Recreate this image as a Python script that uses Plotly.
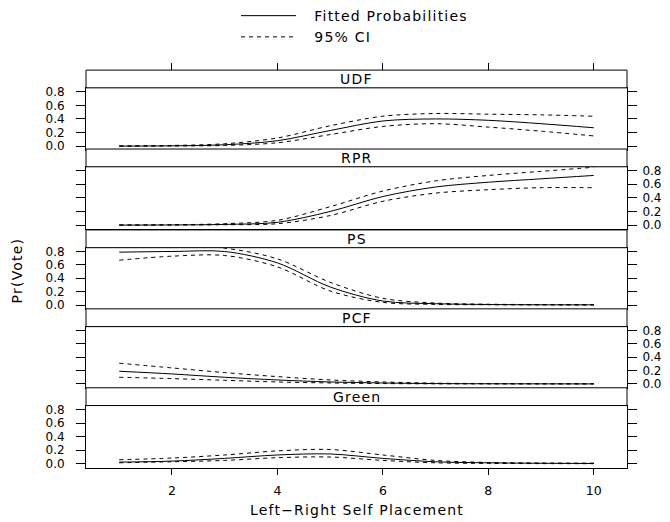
import plotly.graph_objects as go

# ---------------- data ----------------
X = [1, 2, 3, 4, 5, 6, 7, 8, 9, 10]
PARTIES = ["UDF", "RPR", "PS", "PCF", "Green"]

UDF_fit = [0.0, 0.005, 0.02, 0.08, 0.23, 0.37, 0.40, 0.38, 0.33, 0.27]
UDF_hi = [0.004, 0.01, 0.035, 0.12, 0.30, 0.44, 0.48, 0.47, 0.46, 0.44]
UDF_lo = [0.0, 0.002, 0.01, 0.05, 0.17, 0.29, 0.33, 0.28, 0.22, 0.15]

RPR_fit = [0.0, 0.002, 0.01, 0.04, 0.20, 0.42, 0.56, 0.63, 0.68, 0.73]
RPR_hi = [0.0, 0.004, 0.02, 0.07, 0.27, 0.50, 0.65, 0.73, 0.79, 0.85]
RPR_lo = [0.0, 0.001, 0.005, 0.02, 0.14, 0.35, 0.47, 0.52, 0.55, 0.55]

PS_fit = [0.79, 0.80, 0.80, 0.63, 0.27, 0.06, 0.02, 0.008, 0.004, 0.003]
PS_hi = [0.89, 0.88, 0.85, 0.69, 0.34, 0.10, 0.03, 0.012, 0.007, 0.005]
PS_lo = [0.67, 0.73, 0.74, 0.57, 0.21, 0.04, 0.01, 0.004, 0.002, 0.001]

PCF_fit = [0.19, 0.15, 0.10, 0.06, 0.03, 0.015, 0.006, 0.003, 0.002, 0.001]
PCF_hi = [0.31, 0.24, 0.17, 0.11, 0.06, 0.03, 0.012, 0.006, 0.004, 0.003]
PCF_lo = [0.10, 0.08, 0.055, 0.03, 0.015, 0.006, 0.002, 0.001, 0.0005, 0.0002]

Green_fit = [0.025, 0.04, 0.08, 0.13, 0.145, 0.08, 0.03, 0.015, 0.008, 0.005]
Green_hi = [0.06, 0.085, 0.13, 0.19, 0.21, 0.13, 0.05, 0.02, 0.012, 0.01]
Green_lo = [0.015, 0.03, 0.05, 0.09, 0.10, 0.05, 0.015, 0.006, 0.003, 0.002]

FIT = [UDF_fit, RPR_fit, PS_fit, PCF_fit, Green_fit]
HI = [UDF_hi, RPR_hi, PS_hi, PCF_hi, Green_hi]
LO = [UDF_lo, RPR_lo, PS_lo, PCF_lo, Green_lo]

Y_TICKS = [0.0, 0.2, 0.4, 0.6, 0.8]
X_TICKS = [2, 4, 6, 8, 10]

# ---------------- layout geometry ----------------
W, H = 670, 522
FONT = "DejaVu Sans"
FS = 14          # labels, strips, legend
TFS = 12         # tick labels
X_RANGE = [0.37, 10.63]
Y_RANGE = [-0.057, 0.857]
px_left, px_right = 86, 627
xdom = [px_left / W, px_right / W]
PANELS = [(85, 148), (165, 228), (247, 309), (327, 389), (407, 470)]
STRIP_H = 18


def py(p):
    return 1 - p / H


def wide(s, sp=1.2):
    return f'<span style="letter-spacing:{sp}px">{s}</span>'


fig = go.Figure()
layout = dict(
    width=W, height=H, margin=dict(l=0, r=0, t=0, b=0),
    paper_bgcolor="white", plot_bgcolor="white",
    font=dict(family=FONT, size=FS, color="black"),
    showlegend=True,
    legend=dict(x=236 / W, y=1 + 4 / H, xanchor="left", yanchor="top",
                bgcolor="rgba(0,0,0,0)", font=dict(size=FS, family=FONT),
                itemwidth=55, tracegroupgap=0),
)
shapes = []
annotations = []

for i, name in enumerate(PARTIES):
    k = i + 1
    xa = "x" if k == 1 else f"x{k}"
    ya = "y" if k == 1 else f"y{k}"
    top, bot = PANELS[i]
    ydom = [py(bot), py(top)]

    fig.add_trace(go.Scatter(x=X, y=FIT[i], mode="lines", xaxis=xa, yaxis=ya,
                             line=dict(color="black", width=1, shape="spline", smoothing=0.9),
                             name="\u00a0\u00a0\u00a0" + wide("Fitted Probabilities"),
                             showlegend=(i == 0), legendrank=1))
    fig.add_trace(go.Scatter(x=X, y=HI[i], mode="lines", xaxis=xa, yaxis=ya,
                             line=dict(color="black", width=1, dash="4px,4px", shape="spline", smoothing=0.9),
                             name="\u00a0\u00a0\u00a0" + wide("95% CI"),
                             showlegend=(i == 0), legendrank=2))
    fig.add_trace(go.Scatter(x=X, y=LO[i], mode="lines", xaxis=xa, yaxis=ya,
                             line=dict(color="black", width=1, dash="4px,4px", shape="spline", smoothing=0.9),
                             name="95% CI", showlegend=False))

    last = (i == len(PARTIES) - 1)
    xkey = "xaxis" if k == 1 else f"xaxis{k}"
    ykey = "yaxis" if k == 1 else f"yaxis{k}"
    layout[xkey] = dict(
        domain=xdom, anchor=ya, range=X_RANGE, showgrid=False, zeroline=False,
        showline=True, linecolor="black", linewidth=1, mirror=True,
        tickvals=X_TICKS, ticks="outside" if last else "", ticklen=6, tickcolor="black",
        showticklabels=last, tickfont=dict(size=TFS + 0.5, family=FONT),
        ticklabelstandoff=5,
    )
    right = (i % 2 == 1)
    layout[ykey] = dict(
        domain=ydom, anchor=xa, range=Y_RANGE, showgrid=False, zeroline=False,
        showline=True, linecolor="black", linewidth=1, mirror="ticks",
        tickvals=Y_TICKS, tickformat=".1f", ticks="outside", ticklen=9,
        tickcolor="black", side="right" if right else "left",
        tickfont=dict(size=TFS, family=FONT), ticklabelstandoff=3 if right else 9,
    )
    shapes.append(dict(type="rect", xref="paper", yref="paper",
                       x0=xdom[0], x1=xdom[1], y0=py(top), y1=py(top - STRIP_H),
                       line=dict(color="black", width=1), fillcolor="white", layer="above"))
    annotations.append(dict(text=wide(name), xref="paper", yref="paper",
                            x=(xdom[0] + xdom[1]) / 2, y=py(top - STRIP_H / 2),
                            xanchor="center", yanchor="middle", showarrow=False,
                            font=dict(size=FS, family=FONT)))

# top tick marks above the first strip
fig.add_trace(go.Scatter(x=X, y=[None] * len(X), mode="lines", xaxis="x6", yaxis="y",
                         showlegend=False, hoverinfo="skip"))
layout["xaxis6"] = dict(
    domain=xdom, overlaying="x", side="top", anchor="free",
    position=py(PANELS[0][0] - STRIP_H), range=X_RANGE, showgrid=False, zeroline=False,
    showline=False, tickvals=X_TICKS, ticks="outside", ticklen=7, tickcolor="black",
    showticklabels=False,
)

annotations.append(dict(text=wide("Pr(Vote)"), xref="paper", yref="paper", x=17 / W, y=py(270),
                        xanchor="center", yanchor="middle", textangle=-90, showarrow=False,
                        font=dict(size=FS, family=FONT)))
annotations.append(dict(text=wide("Left\u2212Right Self Placement"), xref="paper", yref="paper",
                        x=(xdom[0] + xdom[1]) / 2, y=py(513), xanchor="center", yanchor="middle",
                        showarrow=False, font=dict(size=FS, family=FONT)))

layout["shapes"] = shapes
layout["annotations"] = annotations
fig.update_layout(**layout)
fig.write_html("out.html")
